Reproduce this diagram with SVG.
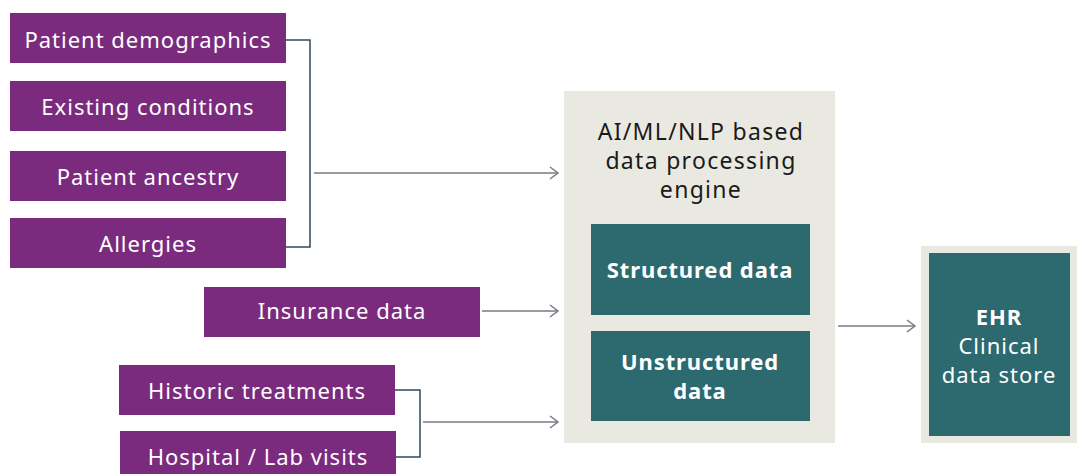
<svg xmlns="http://www.w3.org/2000/svg" width="1077" height="474" viewBox="0 0 1077 474">
<defs>
<style>
.p{fill:#7a2b7e}
.pt{font-family:"Noto Sans","Liberation Sans",sans-serif;font-size:22px;letter-spacing:1px;fill:#ffffff;text-anchor:middle}
.t{fill:#2d6a70}
.tb{font-family:"Noto Sans","Liberation Sans",sans-serif;font-size:22px;letter-spacing:0.9px;font-weight:bold;fill:#ffffff;text-anchor:middle}
.tn{font-family:"Noto Sans","Liberation Sans",sans-serif;font-size:22px;letter-spacing:1px;fill:#ffffff;text-anchor:middle}
.dk{font-family:"Noto Sans","Liberation Sans",sans-serif;font-size:23px;letter-spacing:1.3px;fill:#1a1a1a;text-anchor:middle}
.br{fill:none;stroke:#2f4b5a;stroke-width:1.5}
.ar{fill:none;stroke:#7a7a84;stroke-width:1.5}
</style>
<marker id="ah" markerWidth="14" markerHeight="14" refX="12" refY="7" orient="auto" markerUnits="userSpaceOnUse">
<path d="M4,1 L12,7 L4,13" fill="none" stroke="#7a7a84" stroke-width="1.5"/>
</marker>
</defs>
<rect width="1077" height="474" fill="#ffffff"/>
<g id="engine">
<rect x="564" y="91" width="271" height="352" fill="#e9e9e1"/>
<text class="dk" x="701" y="140">AI/ML/NLP based</text>
<text class="dk" x="701" y="169">data processing</text>
<text class="dk" x="701" y="198">engine</text>
</g>
<g id="structured">
<rect class="t" x="591" y="224" width="219" height="91"/>
<text class="tb" x="700" y="278">Structured data</text>
</g>
<g id="unstructured">
<rect class="t" x="591" y="331" width="219" height="90"/>
<text class="tb" x="700" y="370">Unstructured</text>
<text class="tb" x="700" y="399">data</text>
</g>
<g id="ehr">
<rect x="921" y="246" width="156" height="197" fill="#e9e9e1"/>
<rect class="t" x="929" y="253" width="141" height="183"/>
<text class="tb" x="999" y="325">EHR</text>
<text class="tn" x="999" y="354">Clinical</text>
<text class="tn" x="999" y="383">data store</text>
</g>
<g id="patient-demographics"><rect class="p" x="10" y="13" width="276" height="50"/><text class="pt" x="148" y="48">Patient demographics</text></g>
<g id="existing-conditions"><rect class="p" x="10" y="81" width="276" height="50"/><text class="pt" x="148" y="115">Existing conditions</text></g>
<g id="patient-ancestry"><rect class="p" x="10" y="151" width="276" height="50"/><text class="pt" x="148" y="185">Patient ancestry</text></g>
<g id="allergies"><rect class="p" x="10" y="218" width="276" height="50"/><text class="pt" x="148" y="252">Allergies</text></g>
<g id="insurance-data"><rect class="p" x="204" y="287" width="276" height="50"/><text class="pt" x="342" y="319">Insurance data</text></g>
<g id="historic-treatments"><rect class="p" x="119" y="365" width="276" height="50"/><text class="pt" x="257" y="399">Historic treatments</text></g>
<g id="hospital-lab-visits"><rect class="p" x="120" y="431" width="276" height="50"/><text class="pt" x="258" y="465">Hospital / Lab visits</text></g>
<g id="connectors">
<path class="br" d="M286,40 H310 V247 H286"/>
<path class="br" d="M395,390 H420 V457 H396"/>
<line class="ar" x1="314" y1="173" x2="558" y2="173" marker-end="url(#ah)"/>
<line class="ar" x1="482" y1="311" x2="558" y2="311" marker-end="url(#ah)"/>
<line class="ar" x1="423" y1="422" x2="558" y2="422" marker-end="url(#ah)"/>
<line class="ar" x1="838" y1="326" x2="915" y2="326" marker-end="url(#ah)"/>
</g>
</svg>
